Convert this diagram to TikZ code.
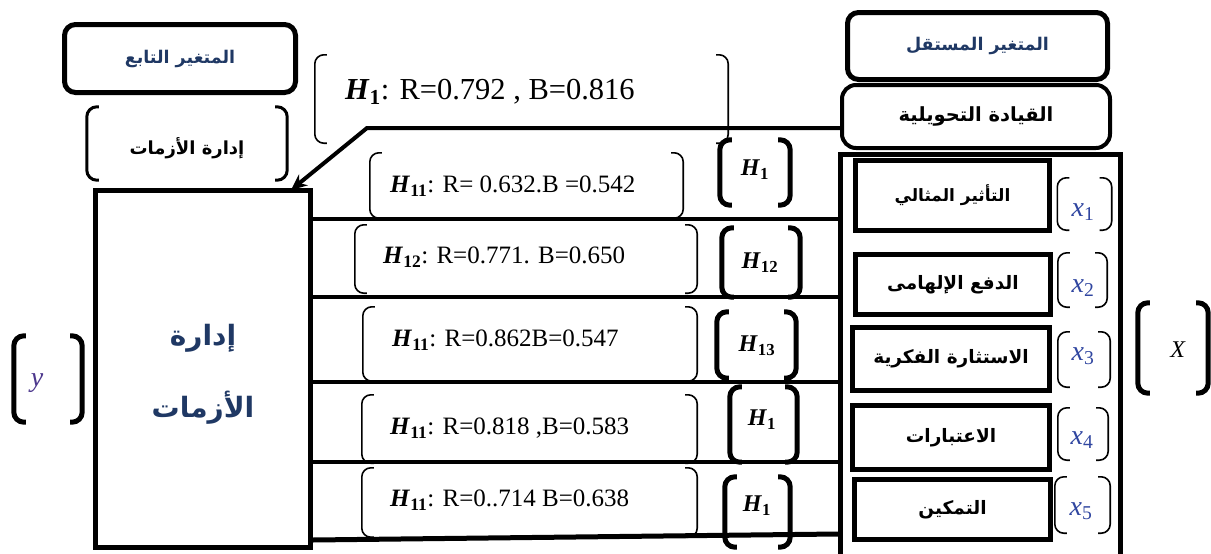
\documentclass[tikz,border=0pt]{standalone}
\usepackage{fontspec}
\setmainfont{Liberation Serif}
\newfontfamily\arabicfont[Script=Arabic]{DejaVu Sans}
\TeXXeTstate=1
\usetikzlibrary{arrows.meta}
\definecolor{navy}{RGB}{31,56,100}
\definecolor{xblue}{RGB}{48,70,160}
\newcommand\artext[1]{{\arabicfont\bfseries\beginR #1\endR}}
\newcommand\Hs[1]{\textbf{\textit{H}}\textsubscript{\textbf{#1}}}
\newcommand\Hb[1]{\textbf{\textit{H}\textsubscript{#1}}}
\newcommand\xs[1]{\textcolor{xblue}{\textit{x}\textsubscript{#1}}}
\newcommand\drawbrk[2][]{%
  \draw[#1] ([xshift=12pt]#2.north west) -- (#2.north west) -- (#2.south west) -- ([xshift=12pt]#2.south west);
  \draw[#1] ([xshift=-12pt]#2.north east) -- (#2.north east) -- (#2.south east) -- ([xshift=-12pt]#2.south east);}
\tikzset{
  titlebox/.style={draw, line width=5pt, rounded corners=11pt, inner sep=0pt, text=navy,
    font=\fontsize{17.5}{20}\selectfont},
  leadbox/.style={draw, line width=4pt, rounded corners=14pt, inner sep=0pt,
    font=\fontsize{19.5}{22}\selectfont},
  itembox/.style={draw, line width=5pt, inner sep=0pt, font=\fontsize{18.5}{21}\selectfont},
  bigbox/.style={draw, line width=5pt, inner sep=0pt},
  slot/.style={inner sep=0pt},
  brkthin/.style={line width=1.6pt, rounded corners=9pt},
  brkmid/.style={line width=3pt, rounded corners=10pt},
  brkthick/.style={line width=5pt, rounded corners=10pt},
  link/.style={line width=4pt},
  rowtxt/.style={anchor=west, inner sep=0pt, font=\fontsize{25}{29}\selectfont},
  hlabel/.style={inner sep=0pt, font=\fontsize{24}{28}\selectfont},
  xlabel/.style={inner sep=0pt, font=\fontsize{28}{32}\selectfont},
}
\begin{document}
\begin{tikzpicture}[x=1pt,y=-1pt]
\useasboundingbox (0,0) rectangle (1211,554);

% left side
\node[titlebox, minimum width=231pt, minimum height=68pt] (dep) at (180,58.5) {\artext{المتغير التابع}};
\node[slot, minimum width=200pt, minimum height=73pt] (depname) at (187,143.5) {};
\drawbrk[brkmid]{depname}
\node[font=\fontsize{18}{21}\selectfont] (depnametxt) at (187,148) {\artext{إدارة الأزمات}};
\node[bigbox, minimum width=215pt, minimum height=357pt] (ybox) at (203,369) {};
\node[text=navy, font=\fontsize{28}{32}\selectfont] (yboxt1) at (203,338) {\artext{إدارة}};
\node[text=navy, font=\fontsize{28}{32}\selectfont] (yboxt2) at (203,408) {\artext{الأزمات}};
\node[slot, minimum width=68pt, minimum height=86pt] (ybrk) at (48,379) {};
\drawbrk[brkthick]{ybrk}
\node[xlabel, text=xblue!80!purple] (ylab) at (37,383) {\textit{y}};

% right side
\node[titlebox, minimum width=260pt, minimum height=67pt] (indep) at (977.5,46) {\artext{المتغير المستقل}};
\node[leadbox, minimum width=268pt, minimum height=63pt] (lead) at (976,116.5) {\artext{القيادة التحويلية}};
\node[bigbox, minimum width=280pt, minimum height=445pt] (xframe) at (980.5,377) {};

\node[itembox, minimum width=194pt, minimum height=70pt, font=\fontsize{17}{20}\selectfont] (d1) at (952.5,195.5) {\artext{التأثير المثالي}};
\node[itembox, minimum width=195pt, minimum height=60pt] (d2) at (953,284.5) {\raisebox{-5pt}{\artext{الدفع الإلهامى}}};
\node[itembox, minimum width=197pt, minimum height=63pt] (d3) at (951,359) {\raisebox{-3pt}{\artext{الاستثارة الفكرية}}};
\node[itembox, minimum width=197pt, minimum height=64pt] (d4) at (951,437.5) {\raisebox{-5pt}{\artext{الاعتبارات}}};
\node[itembox, minimum width=196pt, minimum height=60pt] (d5) at (952.5,509.5) {\raisebox{-6pt}{\artext{التمكين}}};

\node[slot, minimum width=54pt, minimum height=52pt] (xb1) at (1084.5,204) {};
\node[slot, minimum width=49pt, minimum height=54pt] (xb2) at (1082.5,280) {};
\node[slot, minimum width=52pt, minimum height=55pt] (xb3) at (1084,359.5) {};
\node[slot, minimum width=50pt, minimum height=52pt] (xb4) at (1083,434) {};
\node[slot, minimum width=55pt, minimum height=56pt] (xb5) at (1082.5,505) {};
\drawbrk[brkthin]{xb1}
\drawbrk[brkthin]{xb2}
\drawbrk[brkthin]{xb3}
\drawbrk[brkthin]{xb4}
\drawbrk[brkthin]{xb5}
\node[xlabel] (xl1) at (1083,212) {\xs{1}};
\node[xlabel] (xl2) at (1083,288) {\xs{2}};
\node[xlabel] (xl3) at (1083,356) {\xs{3}};
\node[xlabel] (xl4) at (1082,440) {\xs{4}};
\node[xlabel] (xl5) at (1081,511) {\xs{5}};

\node[slot, minimum width=70pt, minimum height=90pt] (Xbrk) at (1173,348) {};
\drawbrk[brkthick]{Xbrk}
\node[xlabel, font=\fontsize{24}{28}\selectfont] (Xlab) at (1178,350) {\textit{X}};

% top hypothesis
\node[slot, minimum width=413pt, minimum height=88pt] (htop) at (521.5,99) {};
\drawbrk[brkthin]{htop}
\node[rowtxt, font=\fontsize{30.5}{34}\selectfont] (htoptxt) at (345,92) {\Hs{1}: R=0.792 , B=0.816};
\coordinate (knee) at (367,128);
\draw[link, -{Stealth[length=16pt,width=14pt]}] (lead.west |- knee) -- (knee) -- ([xshift=-22pt,yshift=-2pt]ybox.north east);

% rows
\node[slot, minimum width=313pt, minimum height=65pt] (h1) at (526.5,185.5) {};
\node[slot, minimum width=342pt, minimum height=68pt] (h2) at (526,259) {};
\node[slot, minimum width=334pt, minimum height=74pt] (h3) at (530,344) {};
\node[slot, minimum width=335pt, minimum height=68pt] (h4) at (529.5,429) {};
\node[slot, minimum width=335pt, minimum height=69pt] (h5) at (529.5,502.5) {};
\drawbrk[brkthin]{h1}
\drawbrk[brkthin]{h2}
\drawbrk[brkthin]{h3}
\drawbrk[brkthin]{h4}
\drawbrk[brkthin]{h5}
\node[rowtxt] (t1) at (390,186) {\Hs{11}: R= 0.632.B =0.542};
\node[rowtxt] (t2) at (383,257) {\Hs{12}: R=0.771. B=0.650};
\node[rowtxt] (t3) at (392,340) {\Hs{11}: R=0.862B=0.547};
\node[rowtxt] (t4) at (390,428) {\Hs{11}: R=0.818 ,B=0.583};
\node[rowtxt] (t5) at (390,500) {\Hs{11}: R=0..714 B=0.638};

\node[slot, minimum width=70pt, minimum height=65pt] (hb1) at (755,172.5) {};
\node[slot, minimum width=78pt, minimum height=69pt] (hb2) at (761,262.5) {};
\node[slot, minimum width=79pt, minimum height=66pt] (hb3) at (756.5,345) {};
\node[slot, minimum width=67pt, minimum height=75pt] (hb4) at (763.5,424.5) {};
\node[slot, minimum width=65pt, minimum height=70pt] (hb5) at (757.5,512) {};
\drawbrk[brkthick]{hb1}
\drawbrk[brkthick]{hb2}
\drawbrk[brkthick]{hb3}
\drawbrk[brkthick]{hb4}
\drawbrk[brkthick]{hb5}
\node[hlabel] (hl1) at (755,170) {\Hb{1}};
\node[hlabel] (hl2) at (760,263) {\Hb{12}};
\node[hlabel] (hl3) at (757,346) {\Hb{13}};
\node[hlabel] (hl4) at (762,420) {\Hb{1}};
\node[hlabel] (hl5) at (757,506) {\Hb{1}};

% connectors
\coordinate (r1) at (0,219);
\coordinate (r2) at (0,297);
\coordinate (r3) at (0,382);
\coordinate (r4) at (0,462);
\draw[link] (ybox.east |- r1) -- (xframe.west |- r1);
\draw[link] (ybox.east |- r2) -- (xframe.west |- r2);
\draw[link] (ybox.east |- r3) -- (xframe.west |- r3);
\draw[link] (ybox.east |- r4) -- (xframe.west |- r4);
\coordinate (r5a) at (0,540);
\coordinate (r5b) at (0,534);
\draw[line width=5pt] (ybox.east |- r5a) -- (xframe.west |- r5b);
\end{tikzpicture}
\end{document}
